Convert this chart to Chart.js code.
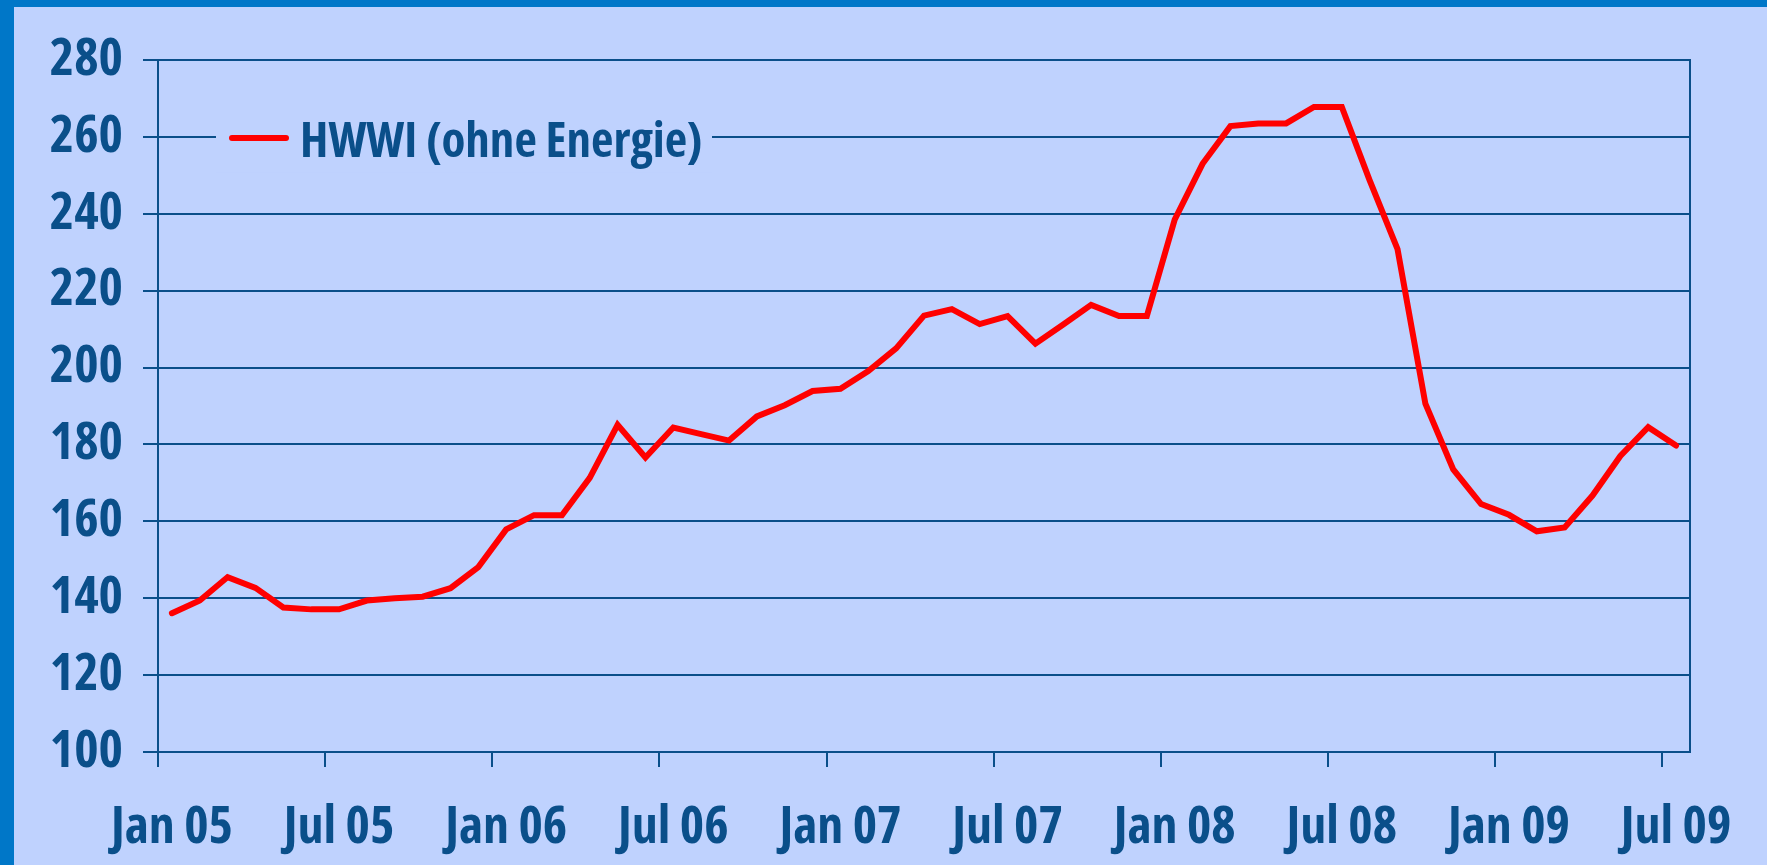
<!DOCTYPE html>
<html>
<head>
<meta charset="utf-8">
<script src="https://cdn.jsdelivr.net/npm/chart.js@4/dist/chart.umd.min.js"></script>
<style>
html, body { margin:0; padding:0; width:1767px; height:865px; overflow:hidden; background:#0077C8; }
#wrap { position:absolute; left:14px; top:7px; width:1753px; height:858px; background:#BFD2FE; }
canvas { display:block; }
</style>
</head>
<body>
<div id="wrap"><canvas id="c" width="1753" height="858"></canvas></div>
<script>
// ---- data ----
const categories = [
  'Jan 05','Feb 05','Mär 05','Apr 05','Mai 05','Jun 05','Jul 05','Aug 05','Sep 05','Okt 05','Nov 05','Dez 05',
  'Jan 06','Feb 06','Mär 06','Apr 06','Mai 06','Jun 06','Jul 06','Aug 06','Sep 06','Okt 06','Nov 06','Dez 06',
  'Jan 07','Feb 07','Mär 07','Apr 07','Mai 07','Jun 07','Jul 07','Aug 07','Sep 07','Okt 07','Nov 07','Dez 07',
  'Jan 08','Feb 08','Mär 08','Apr 08','Mai 08','Jun 08','Jul 08','Aug 08','Sep 08','Okt 08','Nov 08','Dez 08',
  'Jan 09','Feb 09','Mär 09','Apr 09','Mai 09','Jun 09','Jul 09'
];
const seriesLabel = 'HWWI (ohne Energie)';
const hwwiValues = [
  136.1, 139.4, 145.5, 142.7, 137.6, 137.1, 137.1, 139.4, 140.0, 140.4, 142.6, 148.1,
  157.9, 161.6, 161.6, 171.3, 185.1, 176.6, 184.4, 182.7, 181.0, 187.3, 190.2, 193.9,
  194.5, 199.1, 205.0, 213.5, 215.2, 211.3, 213.4, 206.2, 211.2, 216.3, 213.4, 213.4,
  238.5, 253.0, 262.8, 263.5, 263.5, 267.8, 267.8, 248.7, 230.8, 190.6, 173.5, 164.5,
  161.7, 157.4, 158.4, 166.7, 177.0, 184.5, 179.7
];
const yTickValues = [100, 120, 140, 160, 180, 200, 220, 240, 260, 280];
const labelEvery = 6;

// ---- style ----
const DARK = '#0A4F8A';
const BG = '#BFD2FE';
const RED = '#FF0000';
const FONT = "'Open Sans'";
const WEIGHT = 'bold condensed';

const framePlugin = {
  id: 'frame',
  beforeDatasetsDraw(chart) {
    const { ctx, chartArea: a } = chart;
    ctx.save();
    ctx.strokeStyle = DARK;
    ctx.lineWidth = 2;
    ctx.beginPath();
    ctx.moveTo(a.right, a.top - 1);
    ctx.lineTo(a.right, a.bottom + 1);
    ctx.stroke();
    ctx.restore();
  }
};

const legendPlugin = {
  id: 'innerLegend',
  afterDraw(chart) {
    const { ctx, chartArea: a } = chart;
    const ds = chart.data.datasets[0];
    const yMid = chart.scales.y.getPixelForValue(260);
    ctx.save();
    ctx.fillStyle = BG;
    ctx.fillRect(a.left + 58, yMid - 36, 496, 72);
    ctx.strokeStyle = ds.borderColor;
    ctx.lineWidth = 6;
    ctx.lineCap = 'round';
    ctx.beginPath();
    ctx.moveTo(a.left + 74, yMid + 1);
    ctx.lineTo(a.left + 128, yMid + 1);
    ctx.stroke();
    ctx.fillStyle = DARK;
    ctx.font = WEIGHT + ' 49px ' + FONT;
    ctx.textBaseline = 'alphabetic';
    ctx.textAlign = 'left';
    ctx.fillText(ds.label, a.left + 142, yMid + 20);
    ctx.restore();
  }
};

new Chart(document.getElementById('c'), {
  type: 'line',
  data: {
    labels: categories,
    datasets: [{
      label: seriesLabel,
      data: hwwiValues,
      borderColor: RED,
      borderWidth: 6,
      borderCapStyle: 'round',
      borderJoinStyle: 'miter',
      pointRadius: 0,
      tension: 0,
      fill: false
    }]
  },
  options: {
    responsive: false,
    animation: false,
    events: [],
    layout: { padding: { left: 0, top: 53, right: 77, bottom: 0 } },
    plugins: { legend: { display: false }, tooltip: { enabled: false } },
    scales: {
      x: {
        type: 'category',
        offset: true,
        grid: {
          offset: true,
          drawOnChartArea: false,
          drawTicks: true,
          tickLength: 15,
          lineWidth: 2,
          color: (c) => (c.index % labelEvery === 0 ? DARK : 'rgba(0,0,0,0)'),
          tickColor: (c) => (c.index % labelEvery === 0 ? DARK : 'rgba(0,0,0,0)')
        },
        border: { display: true, color: DARK, width: 2 },
        ticks: {
          autoSkip: false,
          maxRotation: 0,
          minRotation: 0,
          padding: 30,
          color: DARK,
          font: { family: FONT, size: 52, weight: WEIGHT },
          callback: function (v, i) { return i % labelEvery === 0 ? this.getLabelForValue(v) : ''; }
        },
        afterFit: (s) => { s.height = 113; }
      },
      y: {
        min: yTickValues[0],
        max: yTickValues[yTickValues.length - 1],
        afterBuildTicks: (s) => { s.ticks = yTickValues.map(v => ({ value: v })); },
        grid: { color: DARK, lineWidth: 2, drawTicks: true, tickLength: 15 },
        border: { display: true, color: DARK, width: 2 },
        ticks: {
          padding: 20,
          color: DARK,
          font: { family: FONT, size: 52, weight: WEIGHT }
        },
        afterFit: (s) => { s.width = 144; }
      }
    }
  },
  plugins: [framePlugin, legendPlugin]
});
</script>
</body>
</html>
